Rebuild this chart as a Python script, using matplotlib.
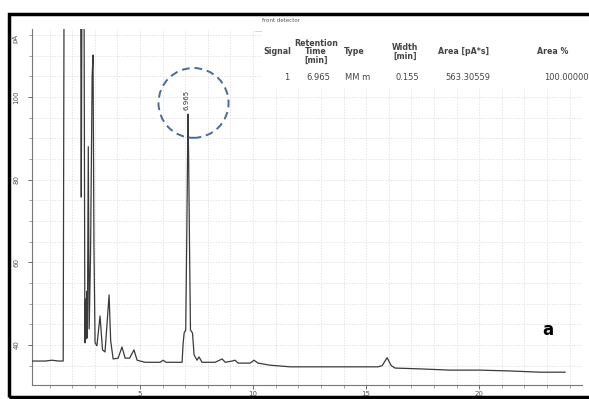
import matplotlib
matplotlib.use('Agg')
import matplotlib.pyplot as plt
from matplotlib.patches import Rectangle, Ellipse

# chromatogram trace (time in min, signal in pA)
# 130 = off scale (clipped at the top of the frame)
time = [0.22, 0.8, 1.1, 1.4, 1.6, 1.64, 2.37, 2.40, 2.43, 2.52,
        2.56, 2.59, 2.61, 2.64, 2.67, 2.71, 2.75, 2.81, 2.88, 2.92,
        2.96, 3.01, 3.09, 3.23, 3.34, 3.45, 3.63, 3.70, 3.81, 4.03,
        4.20, 4.34, 4.54, 4.73, 4.87, 5.22, 5.89, 6.02, 6.15, 6.86,
        6.90, 6.95, 7.02, 7.06, 7.10, 7.12, 7.15, 7.19, 7.23, 7.32,
        7.39, 7.52, 7.61, 7.74, 8.32, 8.63, 8.77, 9.07, 9.20, 9.34,
        9.87, 10.04, 10.22, 10.75, 11.64, 12.96, 14.29, 15.53, 15.71, 15.93,
        16.11, 16.28, 17.39, 18.72, 20.04, 21.37, 22.70, 23.80]
signal = [36.1, 36.1, 36.3, 36.1, 36.1, 130, 130, 75.8, 130, 130,
          40.5, 51.1, 41.5, 53.0, 41.7, 88.0, 43.9, 62.2, 105.0, 110.2,
          64.0, 40.5, 39.8, 47.0, 38.8, 38.3, 52.1, 41.0, 36.6, 36.8,
          39.5, 36.8, 36.8, 38.8, 36.3, 35.8, 35.8, 36.3, 35.8, 35.8,
          40.0, 42.9, 43.6, 63.0, 85.0, 95.9, 85.0, 63.0, 43.6, 42.9,
          37.6, 36.3, 37.1, 35.8, 35.8, 36.6, 35.8, 36.1, 36.3, 35.6,
          35.6, 36.3, 35.6, 35.1, 34.7, 34.7, 34.7, 34.7, 35.0, 36.9,
          35.0, 34.4, 34.2, 33.9, 33.9, 33.7, 33.4, 33.4]

x_ticks = [5, 10, 15, 20]
y_ticks = [40, 60, 80, 100]

peak_rt = 6.965
peak_top = 95.9

# integration report table
col_heads = ['Signal', 'Retention\nTime\n[min]', 'Type', 'Width\n[min]', 'Area [pA*s]', 'Area %']
row_vals = ['1', '6.965', 'MM m', '0.155', '563.30559', '100.00000']
head_x = [277, 316, 354, 405, 464, 553]
val_x = [287, 318, 358, 407, 468, 566]

W, H = 589, 399
fig = plt.figure(figsize=(W / 100, H / 100), dpi=100)

ax = fig.add_axes([32 / W, 1 - 385 / H, (582 - 32) / W, (385 - 29) / H])
ax.plot(time, signal, color='#3a3a3a', lw=0.9, zorder=3)
ax.set_xlim(0.22, 24.55)
ax.set_ylim(30.3, 116.5)

ax.set_xticks(x_ticks)
ax.set_xticks(range(1, 25), minor=True)
ax.set_yticks(y_ticks)
ax.set_yticks(range(35, 116, 5), minor=True)
ax.set_yticklabels([str(v) for v in y_ticks], rotation=90, va='center')
ax.tick_params(labelsize=5, colors='#555555', length=3, width=0.6)
ax.tick_params(axis='y', pad=6)
ax.tick_params(axis='x', pad=1)
ax.tick_params(which='minor', length=2, width=0.5, color='#777777')
ax.grid(which='both', color='#d9d9d9', lw=0.5, ls=(0, (2, 2)))
for s in ['top', 'right']:
    ax.spines[s].set_visible(False)
for s in ['left', 'bottom']:
    ax.spines[s].set_color('#777777')
    ax.spines[s].set_linewidth(0.8)

ax.text(-0.03, 0.985, 'pA', transform=ax.transAxes, rotation=90, fontsize=5,
        color='#555555', ha='center', va='top')

# peak label and highlight circle
ax.text(peak_rt + 0.1, peak_top + 1, str(peak_rt), rotation=90, fontsize=5,
        color='#333333', ha='center', va='bottom', zorder=4)
ax.add_patch(Ellipse((peak_rt + 0.4, 98.6), 3.1, 16.9, fill=False, ec='#4a6a98',
                     lw=1.4, ls=(0, (4, 2.5)), zorder=5))

# table block over the plot
fig.patches.append(Rectangle((262 / W, 1 - 88 / H), (W - 262) / W, 72 / H,
                             transform=fig.transFigure, fc='white', ec='none', zorder=2))
fig.text(262 / W, 1 - 21 / H, 'front detector', fontsize=4, color='#555555',
         ha='left', va='center', zorder=3)
fig.add_artist(plt.Line2D([265 / W, 265 / W], [1 - 35 / H, 1 - 86 / H],
                          transform=fig.transFigure, color='#888888', lw=0.7))
fig.add_artist(plt.Line2D([265 / W, 1], [1 - 71 / H, 1 - 71 / H],
                          transform=fig.transFigure, color='#555555', lw=0.8))
fig.add_artist(plt.Line2D([255 / W, 1], [1 - 31 / H, 1 - 31 / H],
                          transform=fig.transFigure, color='#cccccc', lw=0.6))
for hx, head in zip(head_x, col_heads):
    fig.text(hx / W, 1 - 52 / H, head, fontsize=5.7, color='#444444', ha='center',
             va='center', linespacing=0.95, fontweight='bold', zorder=3)
for vx, val in zip(val_x, row_vals):
    fig.text(vx / W, 1 - 78 / H, val, fontsize=6, color='#444444', ha='center',
             va='center', zorder=3)

fig.text(548 / W, 1 - 330 / H, 'a', fontsize=12, fontweight='bold', color='black',
         ha='center', va='center')

# scan frame
fig.patches.append(Rectangle((9 / W, 1 - 397 / H), 1.0, (397 - 14) / H,
                             transform=fig.transFigure, fill=False, ec='black', lw=2.5,
                             clip_on=False, zorder=10))

fig.savefig('out.png', dpi=100)
